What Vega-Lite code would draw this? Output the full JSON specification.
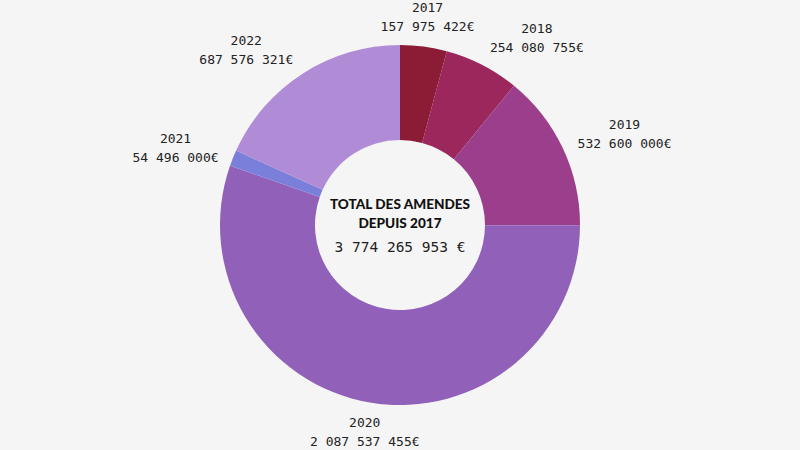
{
  "$schema": "https://vega.github.io/schema/vega-lite/v6.json",
  "autosize": {"type": "fit", "contains": "padding"},
  "width": 800,
  "height": 450,
  "background": "#f5f5f5",
  "config": {
    "view": {"stroke": null},
    "text": {"font": "DejaVu Sans Mono", "fontSize": 13, "color": "#222222"},
    "locale": {"number": {"decimal": ",", "thousands": " ", "grouping": [3], "currency": ["", "€"]}}
  },
  "data": {
    "values": [
      {"year": "2017", "amount": 157975422},
      {"year": "2018", "amount": 254080755},
      {"year": "2019", "amount": 532600000},
      {"year": "2020", "amount": 2087537455},
      {"year": "2021", "amount": 54496000},
      {"year": "2022", "amount": 687576321}
    ]
  },
  "transform": [
    {"stack": "amount", "groupby": [], "sort": [{"field": "year", "order": "ascending"}], "as": ["a0", "a1"]},
    {"calculate": "(datum.a0 + datum.a1) / 2", "as": "amid"}
  ],
  "layer": [
    {
      "mark": {"type": "arc", "innerRadius": 85, "outerRadius": 180, "strokeWidth": 0},
      "encoding": {
        "theta": {"field": "a0", "type": "quantitative", "scale": {"domain": [0, 3774265953]}},
        "theta2": {"field": "a1"},
        "color": {
          "field": "year", "type": "nominal", "legend": null,
          "scale": {"domain": ["2017", "2018", "2019", "2020", "2021", "2022"],
                    "range": ["#8c1c35", "#9b275c", "#9b3f8c", "#9160b8", "#7a80da", "#b08cd6"]}
        }
      }
    },
    {
      "transform": [{"filter": "datum.year == '2017' || datum.year == '2020'"}],
      "layer": [
        {
          "mark": {"type": "text", "radius": 210, "dy": -9},
          "encoding": {
            "theta": {"field": "amid", "type": "quantitative", "scale": {"domain": [0, 3774265953]}},
            "text": {"field": "year", "type": "nominal"}
          }
        },
        {
          "mark": {"type": "text", "radius": 210, "dy": 10},
          "encoding": {
            "theta": {"field": "amid", "type": "quantitative", "scale": {"domain": [0, 3774265953]}},
            "text": {"field": "amount", "type": "quantitative", "format": "$,d"}
          }
        }
      ]
    },
    {
      "transform": [{"filter": "datum.year == '2018'"}],
      "layer": [
        {
          "mark": {"type": "text", "radius": 212, "dy": -7, "dx": 40},
          "encoding": {
            "theta": {"field": "amid", "type": "quantitative", "scale": {"domain": [0, 3774265953]}},
            "text": {"field": "year", "type": "nominal"}
          }
        },
        {
          "mark": {"type": "text", "radius": 212, "dy": 12, "dx": 40},
          "encoding": {
            "theta": {"field": "amid", "type": "quantitative", "scale": {"domain": [0, 3774265953]}},
            "text": {"field": "amount", "type": "quantitative", "format": "$,d"}
          }
        }
      ]
    },
    {
      "transform": [{"filter": "datum.year == '2019' || datum.year == '2021'"}],
      "layer": [
        {
          "mark": {"type": "text", "radius": 245, "dy": 5, "dx": 3},
          "encoding": {
            "theta": {"field": "amid", "type": "quantitative", "scale": {"domain": [0, 3774265953]}},
            "text": {"field": "year", "type": "nominal"}
          }
        },
        {
          "mark": {"type": "text", "radius": 245, "dy": 24, "dx": 3},
          "encoding": {
            "theta": {"field": "amid", "type": "quantitative", "scale": {"domain": [0, 3774265953]}},
            "text": {"field": "amount", "type": "quantitative", "format": "$,d"}
          }
        }
      ]
    },
    {
      "transform": [{"filter": "datum.year == '2022'"}],
      "layer": [
        {
          "mark": {"type": "text", "radius": 210, "dy": -7, "dx": -40},
          "encoding": {
            "theta": {"field": "amid", "type": "quantitative", "scale": {"domain": [0, 3774265953]}},
            "text": {"field": "year", "type": "nominal"}
          }
        },
        {
          "mark": {"type": "text", "radius": 210, "dy": 12, "dx": -40},
          "encoding": {
            "theta": {"field": "amid", "type": "quantitative", "scale": {"domain": [0, 3774265953]}},
            "text": {"field": "amount", "type": "quantitative", "format": "$,d"}
          }
        }
      ]
    },
    {
      "data": {"values": [{"title": "TOTAL DES AMENDES\nDEPUIS 2017"}]},
      "mark": {"type": "text", "lineBreak": "\n", "lineHeight": 19, "dy": -20, "font": "Lato", "fontWeight": 900, "fontSize": 13.6, "color": "#111111"},
      "encoding": {"text": {"field": "title", "type": "nominal"}}
    },
    {
      "data": {"values": [{"amount": 157975422}, {"amount": 254080755}, {"amount": 532600000}, {"amount": 2087537455}, {"amount": 54496000}, {"amount": 687576321}]},
      "transform": [
        {"aggregate": [{"op": "sum", "field": "amount", "as": "total"}]},
        {"calculate": "format(datum.total, ',d') + ' €'", "as": "totalLabel"}
      ],
      "mark": {"type": "text", "dy": 23, "fontSize": 14.5},
      "encoding": {"text": {"field": "totalLabel", "type": "nominal"}}
    }
  ]
}
